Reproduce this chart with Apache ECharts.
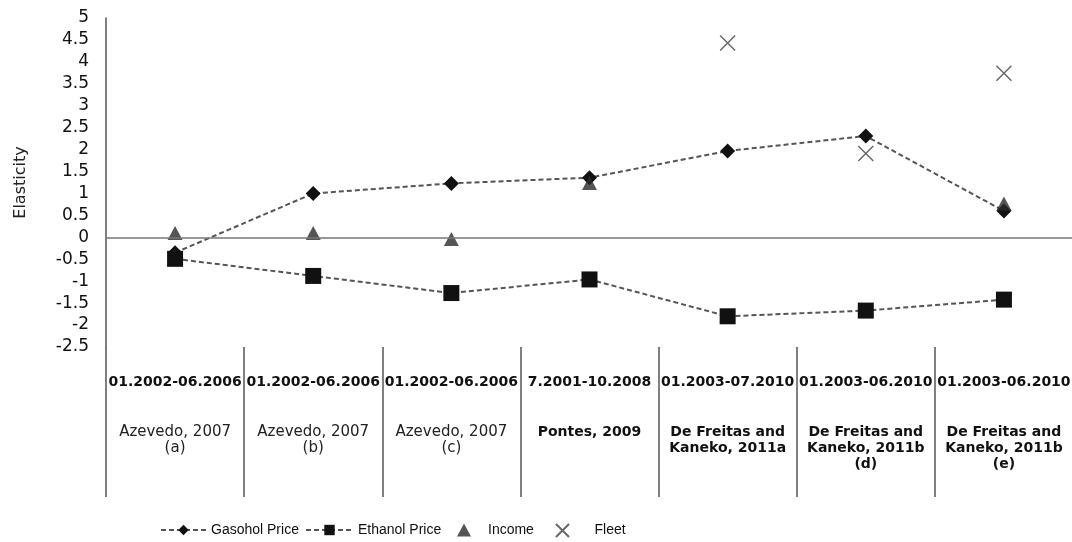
<!DOCTYPE html>
<html>

<head>
    <meta charset="utf-8" />
    <title>Elasticity</title>
    <script src="https://cdn.jsdelivr.net/npm/echarts@6/dist/echarts.min.js"></script>
</head>
<style>
    body {
        margin: 0;
        background: #fff;
    }
</style>

<body>
    <div id="main" style="width: 1072px;height:542px;"></div>
    <script type="text/javascript">
        // 数据
        var periods = ['01.2002-06.2006', '01.2002-06.2006', '01.2002-06.2006', '7.2001-10.2008', '01.2003-07.2010', '01.2003-06.2010', '01.2003-06.2010'];
        var studies = ['Azevedo, 2007\n(a)', 'Azevedo, 2007\n(b)', 'Azevedo, 2007\n(c)', 'Pontes, 2009', 'De Freitas and\nKaneko, 2011a', 'De Freitas and\nKaneko, 2011b\n(d)', 'De Freitas and\nKaneko, 2011b\n(e)'];
        var gasohol = [-0.35, 1.0, 1.23, 1.36, 1.97, 2.31, 0.6];
        var ethanol = [-0.49, -0.88, -1.27, -0.96, -1.8, -1.67, -1.42];
        var income = [0.1, 0.1, -0.04, 1.24, null, null, 0.77];
        var fleet = [null, null, null, null, 4.43, 1.91, 3.74];

        var myChart = echarts.init(document.getElementById('main'));
        var font = "'DejaVu Sans', sans-serif";
        var lfont = "'Liberation Sans', Arial, sans-serif";

        // 图例：每项单独定位
        function leg(name, left, w, pad) {
            return {
                data: [name],
                left: left,
                top: 518,
                itemWidth: w,
                itemHeight: 13,
                textStyle: { fontFamily: lfont, fontSize: 14, color: '#111', padding: [0, 0, 0, pad] }
            };
        }

        var option = {
            animation: false,
            grid: {
                left: 106,
                right: -1,
                top: 18,
                bottom: 195,
                outerBoundsMode: 'none'
            },
            xAxis: {
                type: 'category',
                data: periods.map(function (p, i) { return String(i); }),
                boundaryGap: true,
                axisLine: { onZero: false, show: false },
                axisTick: {
                    show: true,
                    length: 150,
                    lineStyle: { color: '#555', width: 1.5 }
                },
                axisLabel: {
                    interval: 0,
                    margin: 27,
                    color: '#111',
                    fontFamily: font,
                    formatter: function (v, i) {
                        var s = '{d|' + periods[i] + '}\n{g| }\n';
                        var st = i < 3 ? 's' : 'b';
                        s += studies[i].split('\n').map(function (l) { return '{' + st + '|' + l + '}'; }).join('\n');
                        return s;
                    },
                    rich: {
                        d: { fontSize: 14, fontWeight: 'bold', lineHeight: 16, fontFamily: font, color: '#111' },
                        g: { fontSize: 10, lineHeight: 34 },
                        s: { fontSize: 15, lineHeight: 16, fontFamily: font, color: '#222' },
                        b: { fontSize: 14, fontWeight: 'bold', lineHeight: 16, fontFamily: font, color: '#111' }
                    }
                }
            },
            yAxis: {
                type: 'value',
                min: -2.5,
                max: 5,
                interval: 0.5,
                name: 'Elasticity',
                nameLocation: 'middle',
                nameRotate: 90,
                nameGap: 77,
                nameTextStyle: { fontFamily: font, fontSize: 16, color: '#222' },
                splitLine: { show: false },
                axisTick: { show: false },
                axisLine: { show: true, lineStyle: { color: '#555', width: 1.5 } },
                axisLabel: {
                    margin: 17,
                    fontFamily: font,
                    fontSize: 17,
                    color: '#111'
                }
            },
            legend: [
                leg('Gasohol Price', 155, 45, 0),
                leg('Ethanol Price', 300, 47, 0),
                leg('Income', 452, 14, 12),
                leg('Fleet', 550, 14, 20)
            ],
            series: [{
                name: 'Gasohol Price',
                type: 'line',
                data: gasohol,
                symbol: 'diamond',
                symbolSize: 15,
                itemStyle: { color: '#111' },
                lineStyle: { color: '#555', width: 2, type: [5, 3] },
                markLine: {
                    silent: true,
                    symbol: 'none',
                    label: { show: false },
                    lineStyle: { color: '#777', width: 1.5, type: 'solid' },
                    data: [{ yAxis: 0 }]
                },
                z: 3
            }, {
                name: 'Ethanol Price',
                type: 'line',
                data: ethanol,
                symbol: 'rect',
                symbolSize: 16,
                itemStyle: { color: '#111' },
                lineStyle: { color: '#555', width: 2, type: [5, 3] },
                z: 3
            }, {
                name: 'Income',
                type: 'scatter',
                data: income,
                symbol: 'triangle',
                symbolSize: [15, 14],
                itemStyle: { color: '#2a2a2a' },
                z: 4
            }, {
                name: 'Fleet',
                type: 'scatter',
                data: fleet,
                symbol: 'path://M0,0L10,10M10,0L0,10',
                symbolSize: 15,
                itemStyle: { color: 'transparent', borderColor: '#444', borderWidth: 1.5 },
                z: 4
            }]
        };

        myChart.setOption(option);
    </script>
</body>

</html>
